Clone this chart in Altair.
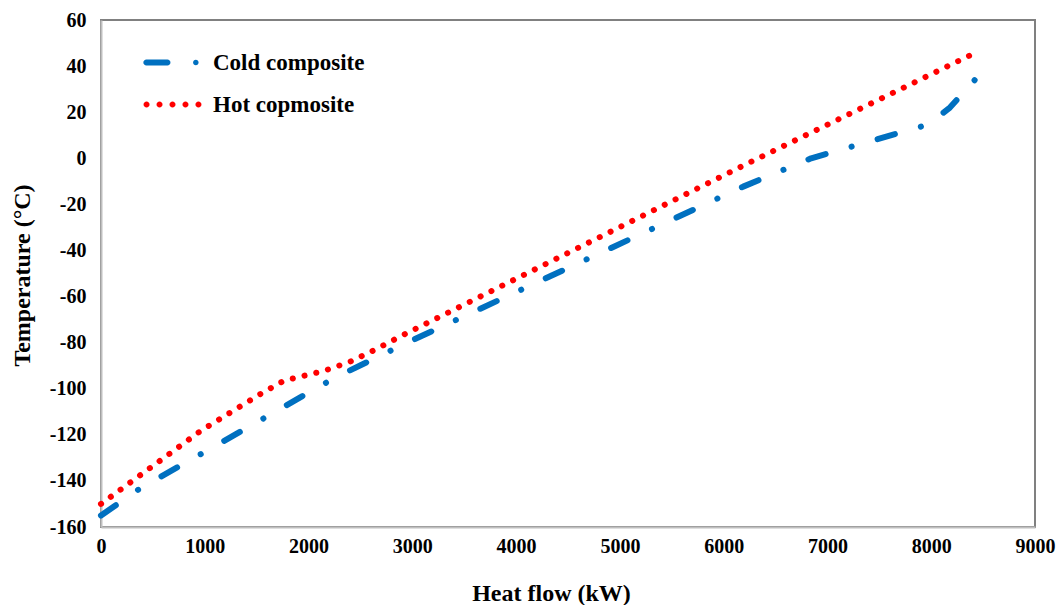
import math
import altair as alt
import pandas as pd

# Cold composite curve (heat flow kW, temperature °C)
cold_q = [0, 385, 1016, 1640, 2040, 2265, 2923, 6188, 6843, 7981, 8180, 8420]
cold_t = [-155, -143, -127, -111, -100.6, -95, -80.6, -12.3, 0, 14.8, 22, 34]

# Hot composite curve
hot_q = [0, 970, 1532, 1763, 2152, 2399, 2650, 2880, 6220, 8390]
hot_t = [-150, -118, -102.4, -96.5, -92.2, -88.3, -82.9, -77.4, -2.5, 45]

series_names = ["Cold composite", "Hot copmosite"]
series_colors = ["#0070C0", "#FF0000"]
series_dashes = [[18, 27, 0.1, 27], [0.1, 12]]
x_ticks = [0, 1000, 2000, 3000, 4000, 5000, 6000, 7000, 8000, 9000]
y_ticks = [-160, -140, -120, -100, -80, -60, -40, -20, 0, 20, 40, 60]


def capsule(x0, x1, r, n=8):
    """Rounded bar from x0 to x1 (unit glyph space), built from straight segments."""
    pts = []
    for k in range(n + 1):
        a = -math.pi / 2 + math.pi * k / n
        pts.append((x1 + r * math.cos(a), r * math.sin(a)))
    for k in range(n + 1):
        a = math.pi / 2 + math.pi * k / n
        pts.append((x0 + r * math.cos(a), r * math.sin(a)))
    return "M" + " L".join(f"{px:.4f},{py:.4f}" for px, py in pts) + " Z "


# legend glyphs (unit space [-1, 1]): dash + dot, and a row of dots
r = 0.103
dash_glyph = capsule(-0.897, -0.173, r) + capsule(0.80, 0.80, 0.095)
dot_glyph = "".join(capsule(c, c, r) for c in [-0.89, -0.445, 0.0, 0.445, 0.89])
legend_glyphs = [dash_glyph, dot_glyph]

rows = []
for i, (q, t) in enumerate(zip(cold_q, cold_t)):
    rows.append({"q": q, "t": t, "series": series_names[0], "ord": i})
for i, (q, t) in enumerate(zip(hot_q, hot_t)):
    rows.append({"q": q, "t": t, "series": series_names[1], "ord": i})
df = pd.DataFrame(rows)

FONT = "Liberation Serif"

x_enc = alt.X("q:Q", title="Heat flow (kW)",
              scale=alt.Scale(domain=[0, 9000], nice=False),
              axis=alt.Axis(values=x_ticks, labelExpr="'' + datum.value", grid=False, ticks=False,
                            labelFlush=False, labelPadding=9, titleX=450, titleY=73,
                            titleBaseline="alphabetic"))
y_enc = alt.Y("t:Q", title="Temperature (°C)",
              scale=alt.Scale(domain=[-160, 60], nice=False),
              axis=alt.Axis(values=y_ticks, labelExpr="'' + datum.value", grid=False, ticks=False,
                            labelFlush=False, labelPadding=15, titleX=-79, titleY=255,
                            titleAngle=270, titleBaseline="middle", titleAlign="center"))

# data-driven (alphabetical) domain: Cold composite -> first range entry
lines = alt.Chart(df).mark_line(strokeWidth=6, strokeCap="round", strokeJoin="round").encode(
    x=x_enc,
    y=y_enc,
    color=alt.Color("series:N", scale=alt.Scale(range=series_colors), legend=None),
    strokeDash=alt.StrokeDash("series:N", scale=alt.Scale(range=series_dashes), legend=None),
    order="ord:Q",
)

legend_layer = alt.Chart(df).transform_filter(
    alt.datum.q < -1
).mark_point(filled=True, opacity=1, size=3400, strokeWidth=0).encode(
    x=x_enc,
    y=y_enc,
    fill=alt.Fill("series:N", scale=alt.Scale(domain=series_names, range=series_colors),
                  legend=alt.Legend(title=None, orient="none", legendX=42, legendY=13,
                                    symbolSize=3400, symbolStrokeWidth=0,
                                    symbolOpacity=1, rowPadding=-16,
                                    labelFont=FONT, labelFontSize=23,
                                    labelFontWeight="bold", labelColor="black",
                                    labelOffset=11)),
    shape=alt.Shape("series:N", scale=alt.Scale(domain=series_names, range=legend_glyphs)),
)

chart = alt.layer(lines, legend_layer).properties(
    width=934, height=507,
    autosize=alt.AutoSizeParams(type="none"),
    padding={"left": 101, "top": 20, "right": 22, "bottom": 78},
).configure_view(
    stroke="#808080", strokeWidth=2
).configure_axis(
    domainColor="#bfbfbf", domainWidth=2,
    labelFont=FONT, labelFontSize=20, labelFontWeight="bold", labelColor="black",
    titleFont=FONT, titleFontSize=24, titleFontWeight="bold", titleColor="black",
)

chart.save("out.html", embed_options={"renderer": "svg", "actions": False})
